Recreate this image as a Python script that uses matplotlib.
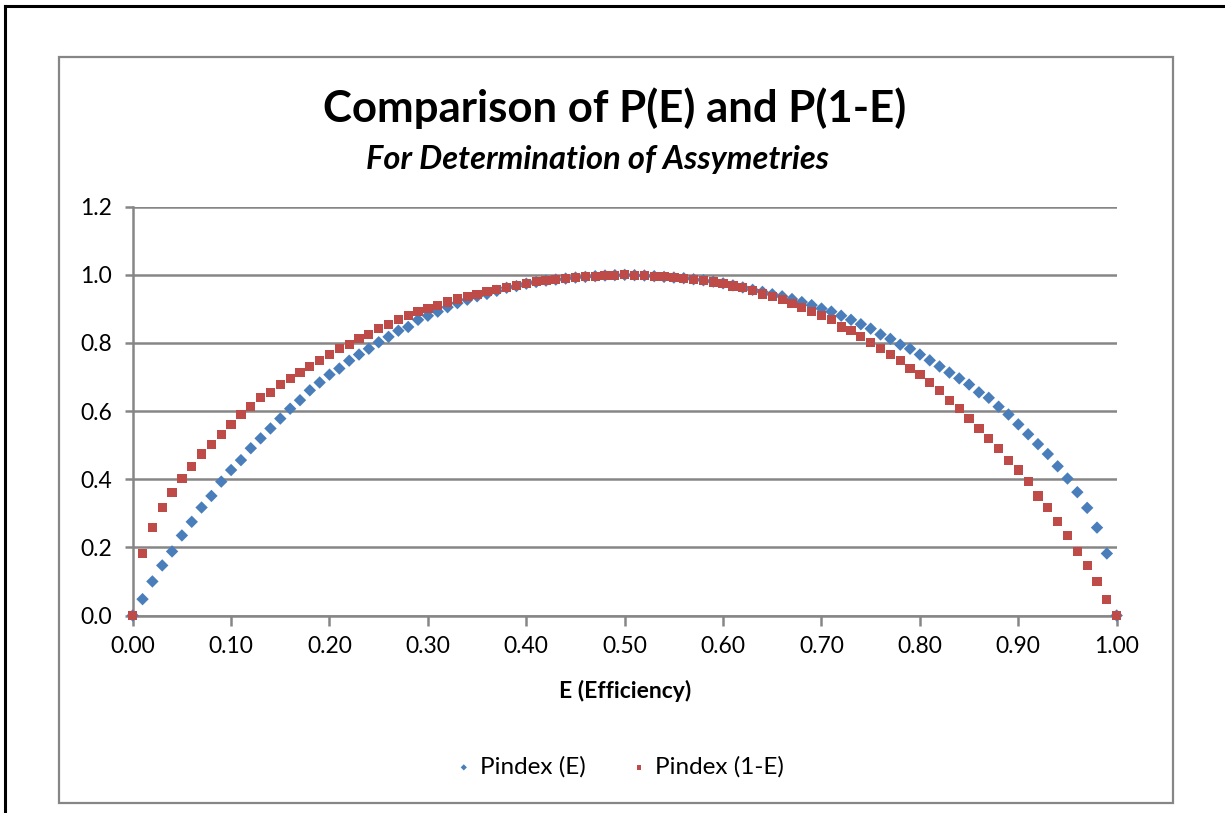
import matplotlib
matplotlib.use("Agg")
import matplotlib.pyplot as plt
from matplotlib.patches import Rectangle
from matplotlib.lines import Line2D

# ---- data ----
efficiency = [round(i * 0.01, 2) for i in range(101)]
pindex_E = [
    0.000, 0.048, 0.100, 0.147, 0.188, 0.235, 0.275, 0.317, 0.351, 0.393,
    0.427, 0.456, 0.491, 0.520, 0.549, 0.578, 0.607, 0.632, 0.661, 0.684,
    0.707, 0.725, 0.748, 0.766, 0.783, 0.802, 0.818, 0.836, 0.847, 0.868,
    0.880, 0.892, 0.905, 0.917, 0.927, 0.937, 0.944, 0.953, 0.962, 0.967,
    0.974, 0.979, 0.983, 0.986, 0.989, 0.992, 0.994, 0.996, 0.998, 0.999,
    1.000, 0.999, 0.998, 0.996, 0.994, 0.992, 0.990, 0.987, 0.984, 0.980,
    0.975, 0.969, 0.963, 0.956, 0.950, 0.943, 0.937, 0.929, 0.920, 0.911,
    0.901, 0.892, 0.880, 0.868, 0.855, 0.842, 0.825, 0.812, 0.795, 0.783,
    0.766, 0.749, 0.731, 0.713, 0.696, 0.678, 0.655, 0.639, 0.613, 0.590,
    0.561, 0.532, 0.503, 0.474, 0.438, 0.402, 0.362, 0.316, 0.258, 0.182,
    0.000,
]
# Pindex(1-E) is Pindex evaluated at the mirrored efficiency
pindex_1mE = pindex_E[::-1]

series_labels = ["Pindex (E)", "Pindex (1-E)"]
x_ticks = [0.0, 0.1, 0.2, 0.3, 0.4, 0.5, 0.6, 0.7, 0.8, 0.9, 1.0]
y_ticks = [0.0, 0.2, 0.4, 0.6, 0.8, 1.0, 1.2]

title = "Comparison of P(E) and P(1-E)"
subtitle = "For Determination of Assymetries"
xlabel = "E (Efficiency)"

# ---- style ----
FONT = ["Lato", "DejaVu Sans"]
plt.rcParams["font.family"] = FONT
BLUE = "#4A7EBB"
RED = "#BE4B48"
GRID = "#868686"

W, H = 1225, 813
fig = plt.figure(figsize=(W / 100, H / 100), dpi=100)

# outer black frame (left & top visible) and inner gray chart border
fig.add_artist(Line2D([5 / W, 5 / W], [0, 1 - 6 / H], color="black", lw=2.2,
                      transform=fig.transFigure))
fig.add_artist(Line2D([5 / W, 1], [1 - 6 / H, 1 - 6 / H], color="black", lw=2.2,
                      transform=fig.transFigure))
fig.add_artist(Rectangle((59 / W, 1 - 803 / H), (1173 - 59) / W, (803 - 57) / H,
                         fill=False, ec=GRID, lw=1.6, transform=fig.transFigure))

ax = fig.add_axes([132.7 / W, 1 - 615.5 / H, (1116.7 - 132.7) / W, (615.5 - 206.7) / H])

ax.scatter(efficiency, pindex_E, marker="D", s=40, color=BLUE, edgecolors="none",
           zorder=3, clip_on=False, label=series_labels[0])
ax.scatter(efficiency, pindex_1mE, marker="s", s=44, color=RED, edgecolors="none",
           zorder=4, clip_on=False, label=series_labels[1])

ax.set_xlim(0, 1.0)
ax.set_ylim(0, 1.2)
ax.set_xticks(x_ticks)
ax.set_xticklabels([f"{v:.2f}" for v in x_ticks])
ax.set_yticks(y_ticks)
ax.set_yticklabels([f"{v:.1f}" for v in y_ticks])
ax.tick_params(axis="both", labelsize=16.5, colors=GRID, labelcolor="black",
               width=1.8, direction="out")
ax.tick_params(axis="x", length=7, pad=8)
ax.tick_params(axis="y", length=6, pad=9)

ax.yaxis.grid(True, color=GRID, lw=1.8, zorder=0)
ax.set_axisbelow(True)
for side in ["top", "right"]:
    ax.spines[side].set_visible(False)
for side in ["left", "bottom"]:
    ax.spines[side].set_color(GRID)
    ax.spines[side].set_linewidth(1.8)

ax.set_xlabel(xlabel, fontsize=16.5, fontweight="bold", labelpad=16)

fig.text(615 / W, 1 - 108 / H, title, ha="center", va="center",
         fontsize=31.5, fontweight="bold")
fig.text(597 / W, 1 - 160 / H, subtitle, ha="center", va="center",
         fontsize=23.5, fontweight="bold", style="italic")

leg = fig.legend(loc="center", bbox_to_anchor=(620 / W, 1 - 767 / H), ncol=2,
                 frameon=False, fontsize=17.5, handletextpad=0.35, columnspacing=1.9,
                 markerscale=0.5, handlelength=0.6)

fig.savefig("out.png", dpi=100)
